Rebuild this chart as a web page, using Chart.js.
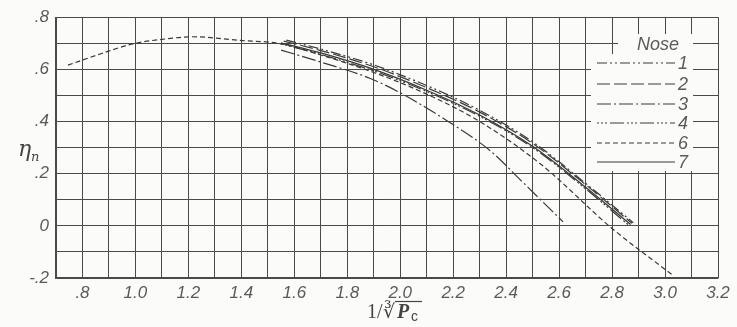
<!DOCTYPE html>
<html><head><meta charset="utf-8">
<script src="https://cdn.jsdelivr.net/npm/chart.js@4/dist/chart.umd.min.js"></script>
<style>
html,body{margin:0;padding:0;background:#fbfbf9;}
#wrap{position:relative;width:737px;height:327px;}
</style>
</head><body>
<div id="wrap"><canvas id="c" width="737" height="327"></canvas></div>
<script>
// Nose efficiency eta_n against 1/cuberoot(Pc), one curve per nose shape
const noseLabels = ['1', '2', '3', '4', '6', '7'];

const nose1X = [1.57, 1.7, 1.9, 2.1, 2.3, 2.5, 2.7, 2.88];
const nose1Y = [0.712, 0.678, 0.617, 0.538, 0.443, 0.322, 0.163, 0.012];

const nose2X = [1.56, 1.7, 1.9, 2.1, 2.3, 2.5, 2.7, 2.875];
const nose2Y = [0.708, 0.672, 0.610, 0.530, 0.436, 0.316, 0.158, 0.010];

const nose3X = [1.55, 1.7, 1.885, 2.0, 2.175, 2.34, 2.46, 2.615];
const nose3Y = [0.674, 0.628, 0.566, 0.510, 0.404, 0.288, 0.170, 0.015];

const nose4X = [1.55, 1.7, 1.9, 2.1, 2.3, 2.5, 2.7, 2.86];
const nose4Y = [0.698, 0.657, 0.594, 0.515, 0.420, 0.300, 0.142, 0.005];

const nose6X = [0.745, 0.87, 0.99, 1.1, 1.217, 1.394, 1.545, 1.7, 1.9, 2.1, 2.3, 2.53, 2.8, 3.03];
const nose6Y = [0.616, 0.660, 0.698, 0.715, 0.725, 0.711, 0.699, 0.655, 0.588, 0.505, 0.400, 0.237, -0.010, -0.190];

const nose7X = [1.55, 1.7, 1.9, 2.1, 2.3, 2.5, 2.7, 2.87];
const nose7Y = [0.702, 0.663, 0.600, 0.520, 0.425, 0.305, 0.148, 0.005];

const xTicks = [0.8, 1.0, 1.2, 1.4, 1.6, 1.8, 2.0, 2.2, 2.4, 2.6, 2.8, 3.0, 3.2];
const yTicks = [-0.2, 0, 0.2, 0.4, 0.6, 0.8];

const ink = '#3a3a3a';
const dashes = {
  '1': [10, 3, 2, 3, 2, 3],
  '2': [13, 4],
  '3': [14, 3, 2, 3],
  '4': [2, 2, 2, 2, 2, 3, 14, 3],
  '6': [5, 3],
  '7': []
};

function pts(xs, ys) { return xs.map((x, i) => ({ x: x, y: ys[i] })); }

const series = {
  '1': pts(nose1X, nose1Y),
  '2': pts(nose2X, nose2Y),
  '3': pts(nose3X, nose3Y),
  '4': pts(nose4X, nose4Y),
  '6': pts(nose6X, nose6Y),
  '7': pts(nose7X, nose7Y)
};

const datasets = noseLabels.map(n => ({
  label: n,
  data: series[n],
  borderColor: ink,
  borderWidth: n === '7' ? 1.3 : 1.2,
  borderDash: dashes[n],
  pointRadius: 0,
  fill: false,
  tension: 0.4,
  cubicInterpolationMode: 'monotone'
}));

function fmt(v) {
  const r = Math.round(v * 10) / 10;
  if (r === 0) return '0';
  let s = Math.abs(r) < 1 ? String(Math.abs(r).toFixed(1)).replace(/^0/, '') : r.toFixed(1);
  if (r < 0) s = '-' + s;
  return s;
}

const tickFont = { family: 'Liberation Sans', size: 17, style: 'italic' };

// White panel with line samples, drawn over the grid in the upper right
const noseKey = {
  id: 'noseKey',
  afterDatasetsDraw(chart) {
    const ctx = chart.ctx;
    ctx.save();
    ctx.fillStyle = '#fbfbf9';
    ctx.fillRect(591, 54, 102, 117);
    ctx.fillRect(618, 34, 75, 22);
    ctx.fillStyle = '#5a5a5a';
    ctx.font = 'italic 18px "Liberation Sans"';
    ctx.textBaseline = 'middle';
    ctx.textAlign = 'left';
    ctx.fillText('Nose', 637, 45);
    const rows = [63, 84, 104, 123, 143, 162];
    noseLabels.forEach((n, i) => {
      const y = rows[i];
      ctx.strokeStyle = ink;
      ctx.lineWidth = 1.2;
      ctx.setLineDash(dashes[n]);
      ctx.beginPath();
      ctx.moveTo(597, y);
      ctx.lineTo(675, y);
      ctx.stroke();
      ctx.setLineDash([]);
      ctx.fillStyle = '#5a5a5a';
      ctx.fillText(n, 678, y + 1);
    });
    ctx.restore();
  }
};

// Axis titles: eta_n on the left, 1/cuberoot(Pc) below
const axisTitles = {
  id: 'axisTitles',
  afterDraw(chart) {
    const ctx = chart.ctx;
    ctx.save();
    ctx.fillStyle = '#444';
    ctx.textBaseline = 'alphabetic';
    ctx.textAlign = 'left';
    ctx.font = 'italic 22px "DejaVu Serif"';
    ctx.fillText('\u03B7', 18, 156);
    ctx.font = 'italic 13px "DejaVu Serif"';
    ctx.fillText('n', 31, 161);

    ctx.font = '20px "Liberation Serif"';
    ctx.fillText('1/', 367, 318);
    ctx.font = '19px "DejaVu Serif"';
    ctx.fillText('\u221B', 383, 318);
    ctx.font = 'italic bold 20px "Liberation Serif"';
    ctx.fillText('P', 397, 318);
    ctx.font = '14px "Liberation Sans"';
    ctx.fillText('c', 411, 321);
    ctx.strokeStyle = '#444';
    ctx.lineWidth = 1.2;
    ctx.beginPath();
    ctx.moveTo(395, 301.5);
    ctx.lineTo(422, 301.5);
    ctx.stroke();
    ctx.restore();
  }
};

new Chart(document.getElementById('c'), {
  type: 'line',
  data: { datasets: datasets },
  options: {
    responsive: false,
    animation: false,
    layout: { padding: { left: 0, right: 19, top: 15, bottom: 0 } },
    plugins: { legend: { display: false }, tooltip: { enabled: false } },
    scales: {
      x: {
        type: 'linear',
        min: 0.7,
        max: 3.2,
        afterFit(axis) { axis.height = 49; },
        afterBuildTicks(axis) {
          const t = [];
          for (let k = 7; k <= 32; k++) t.push({ value: k / 10 });
          axis.ticks = t;
        },
        grid: { color: '#4a4a4a', lineWidth: 1, drawTicks: false },
        border: { color: '#4a4a4a', width: 1.2 },
        ticks: {
          autoSkip: false,
          maxRotation: 0,
          padding: 5,
          color: '#5a5a5a',
          font: tickFont,
          callback(v) {
            const r = Math.round(v * 10) / 10;
            return xTicks.some(t => Math.abs(t - r) < 1e-6) ? fmt(r) : '';
          }
        }
      },
      y: {
        type: 'linear',
        min: -0.2,
        max: 0.8,
        afterFit(axis) { axis.width = 56; },
        afterBuildTicks(axis) {
          const t = [];
          for (let k = -2; k <= 8; k++) t.push({ value: k / 10 });
          axis.ticks = t;
        },
        grid: { color: '#4a4a4a', lineWidth: 1, drawTicks: false },
        border: { color: '#4a4a4a', width: 1.2 },
        ticks: {
          autoSkip: false,
          padding: 7,
          color: '#5a5a5a',
          font: tickFont,
          callback(v) {
            const r = Math.round(v * 10) / 10;
            return yTicks.some(t => Math.abs(t - r) < 1e-6) ? fmt(r) : '';
          }
        }
      }
    }
  },
  plugins: [noseKey, axisTitles]
});
</script>
</body></html>
